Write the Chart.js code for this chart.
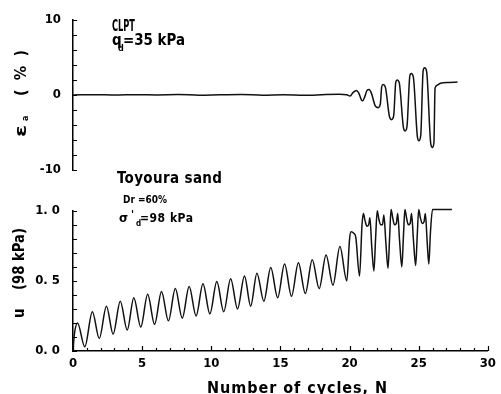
<!DOCTYPE html>
<html><head><meta charset="utf-8">
<script src="https://cdn.jsdelivr.net/npm/chart.js@4.4.1/dist/chart.umd.min.js"></script>
<style>
html,body{margin:0;padding:0;background:#fff;}
#wrap{position:relative;width:501px;height:394px;overflow:hidden;background:#fff;}
canvas{position:absolute;left:0;}
</style></head><body>
<div id="wrap">
<canvas id="top" width="501" height="190" style="top:0"></canvas>
<canvas id="bot" width="501" height="204" style="top:190px"></canvas>
<canvas id="txt" width="501" height="394" style="top:0;pointer-events:none"></canvas>
</div>
<script>
// ---- data ----
const strainN = [0,1.5,3,4.5,6,7.5,9,10.5,12,13.5,15,16.5,18,19,19.5,19.75,19.95,20.2,20.35,20.55,20.65,20.8,20.95,21.1,21.25,21.55,21.75,21.9,22.0,22.1,22.25,22.55,22.7,22.85,23.0,23.1,23.25,23.55,23.67,23.8,24.0,24.1,24.25,24.55,24.65,24.78,24.95,25.05,25.2,25.5,25.62,25.72,25.8,25.95,26.2,26.8,27.4];
const strainE = [0,0.03,-0.02,0.03,0,0.04,-0.03,0.03,0.06,-0.04,0.02,-0.06,0.06,0.08,0.02,-0.15,0.3,0.6,0.3,-0.65,-0.77,-0.2,0.6,0.73,0.3,-1.5,-1.7,-1.2,1.1,1.37,1.1,-2.9,-3.3,-2.8,1.7,2.0,1.6,-4.4,-4.8,-4.2,2.5,2.86,2.4,-5.7,-6.1,-5.4,3.2,3.6,3.1,-6.6,-7.0,-6.3,0.9,1.3,1.55,1.65,1.72];

const poreN = [0,0.1,0.33,0.85,1.4,1.9,2.42,2.9,3.42,3.92,4.4,4.9,5.4,5.9,6.4,6.9,7.4,7.9,8.4,8.9,9.4,9.9,10.4,10.9,11.4,11.9,12.4,12.85,13.3,13.8,14.3,14.8,15.3,15.8,16.3,16.8,17.3,17.8,18.3,18.8,19.3,19.8,20.0,20.1,20.3,20.45,20.72,20.9,21.0,21.12,21.25,21.38,21.47,21.6,21.76,21.88,22.0,22.12,22.25,22.38,22.48,22.62,22.78,22.9,23.0,23.12,23.25,23.38,23.48,23.62,23.78,23.9,24.0,24.12,24.25,24.38,24.48,24.62,24.78,24.9,25.0,25.12,25.25,25.38,25.48,25.6,25.73,25.85,26.0,26.5,27.4];
const poreU = [0,0.12,0.2,0.03,0.28,0.09,0.32,0.12,0.355,0.15,0.38,0.17,0.405,0.19,0.425,0.215,0.445,0.235,0.46,0.25,0.48,0.265,0.495,0.28,0.515,0.30,0.535,0.32,0.555,0.355,0.595,0.38,0.62,0.39,0.63,0.41,0.65,0.445,0.685,0.47,0.745,0.50,0.8,0.85,0.84,0.81,0.535,0.9,0.98,0.93,0.89,0.9,0.95,0.75,0.57,0.8,1.0,0.94,0.9,0.9,0.97,0.78,0.59,0.82,1.01,0.95,0.9,0.91,0.98,0.78,0.60,0.83,1.01,0.95,0.9,0.91,0.98,0.79,0.61,0.84,1.01,0.95,0.91,0.92,0.98,0.8,0.62,0.85,1.01,1.01,1.01];

const xTickValues = [0,5,10,15,20,25,30];
const xTickLabels = ['0','5','10','15','20','25','30'];
const strainTickValues = [-10,0,10];
const strainTickLabels = ['-10','0','10'];
const poreTickValues = [0,0.5,1.0];
const poreTickLabels = ['0. 0','0. 5','1. 0'];

// ---- helpers ----
const FAM = '"Liberation Sans Narrow","DejaVu Sans Condensed",sans-serif';
const tickFont = {family: FAM, size: 13, weight: 'bold'};
function labelFor(vals, labels) {
  return v => { const i = vals.findIndex(t => Math.abs(t - v) < 1e-6); return i >= 0 ? labels[i] : ''; };
}
function pts(xs, ys) { return xs.map((x, i) => ({x: x, y: ys[i]})); }

const inTicks = {
  id: 'inTicks',
  afterDraw(chart, args, opts) {
    const ctx = chart.ctx, a = chart.chartArea;
    ctx.save();
    ctx.strokeStyle = '#000';
    ctx.lineWidth = 1.2;
    ctx.beginPath();
    const ys = chart.scales.y;
    ys.ticks.forEach(t => {
      const p = Math.round(ys.getPixelForValue(t.value)) + 0.5;
      ctx.moveTo(a.left, p); ctx.lineTo(a.left + opts.yLen, p);
    });
    if (opts.xAxis) {
      const xs = chart.scales.x;
      xs.ticks.forEach(t => {
        const p = Math.round(xs.getPixelForValue(t.value)) + 0.5;
        const L = (Math.abs(t.value % 5) < 1e-6) ? 5 : 3;
        ctx.moveTo(p, a.bottom); ctx.lineTo(p, a.bottom - L);
      });
    }
    ctx.stroke();
    ctx.restore();
  }
};

const lineDs = (data) => ({
  data: data, borderColor: '#111', borderWidth: 1.5, pointRadius: 0,
  cubicInterpolationMode: 'monotone', fill: false, clip: false
});

// ---- top chart: axial strain ----
new Chart(document.getElementById('top'), {
  type: 'line',
  data: {datasets: [lineDs(pts(strainN, strainE))]},
  options: {
    responsive: false, animation: false, events: [],
    layout: {padding: {top: 16, right: 7, bottom: 20, left: 0}},
    plugins: {legend: {display: false}, tooltip: {enabled: false}, inTicks: {yLen: 4}},
    scales: {
      x: {type: 'linear', min: 0, max: 30, display: false},
      y: {
        type: 'linear', min: -10, max: 10,
        afterFit: s => { s.width = 73; },
        ticks: {stepSize: 2, autoSkip: false, padding: 12, color: '#000', font: tickFont,
                callback: labelFor(strainTickValues, strainTickLabels)},
        grid: {display: true, drawOnChartArea: false, drawTicks: false},
        border: {display: true, color: '#000', width: 1.5}
      }
    }
  },
  plugins: [inTicks]
});

// ---- bottom chart: pore pressure ----
new Chart(document.getElementById('bot'), {
  type: 'line',
  data: {datasets: [lineDs(pts(poreN, poreU))]},
  options: {
    responsive: false, animation: false, events: [],
    layout: {padding: {top: 10, right: 7, bottom: 0, left: 0}},
    plugins: {legend: {display: false}, tooltip: {enabled: false}, inTicks: {yLen: 4, xAxis: true}},
    scales: {
      x: {
        type: 'linear', min: 0, max: 30,
        afterFit: s => { s.height = 43; },
        ticks: {stepSize: 1, autoSkip: false, maxRotation: 0, padding: 5, color: '#000', font: tickFont,
                callback: labelFor(xTickValues, xTickLabels)},
        grid: {display: true, drawOnChartArea: false, drawTicks: false},
        border: {display: true, color: '#000', width: 1.5}
      },
      y: {
        type: 'linear', min: 0, max: 1.0,
        afterFit: s => { s.width = 73; },
        ticks: {stepSize: 0.1, autoSkip: false, padding: 13, color: '#000', font: tickFont,
                callback: labelFor(poreTickValues, poreTickLabels)},
        grid: {display: true, drawOnChartArea: false, drawTicks: false},
        border: {display: true, color: '#000', width: 1.5}
      }
    }
  },
  plugins: [inTicks]
});

// ---- text annotations / axis titles ----
const octx = document.getElementById('txt').getContext('2d');
function put(str, x, y, size, w, rot) {
  octx.save();
  octx.font = 'bold ' + size + 'px ' + FAM;
  octx.fillStyle = '#000';
  octx.textBaseline = 'alphabetic';
  octx.textAlign = 'left';
  octx.letterSpacing = '0px';
  const nat = octx.measureText(str).width;
  const n = [...str].length;
  octx.translate(x, y);
  if (rot) octx.rotate(-Math.PI / 2);
  if (w && (nat >= w || n < 2)) { octx.scale(w / nat, 1); }
  else if (w) { octx.letterSpacing = ((w - nat) / (n - 1)) + 'px'; }
  octx.fillText(str, 0, 0);
  octx.restore();
}
put('CLPT', 112, 31, 15, 23);
put('q', 112, 45, 15);
put('d', 118, 51, 9);
put('=35 kPa', 123, 45, 15, 62);
put('Toyoura sand', 117, 183, 15, 105);
put('Dr =60%', 123, 203, 11, 44);
put('σ', 119, 222, 13);
put("'", 131, 218, 11);
put('d', 136, 226, 8);
put('=98 kPa', 140, 222, 12, 53);
// y titles (rotated)
put('ε', 26, 137, 16, 12, true);
put('a', 28, 121, 9, 0, true);
put('( % )', 26, 96, 16, 46, true);
put('u', 24, 318, 15, 0, true);
put('(98 kPa)', 24, 290, 15, 62, true);
// x title
put('Number of cycles, N', 207, 393, 16, 180);
</script>
</body></html>
